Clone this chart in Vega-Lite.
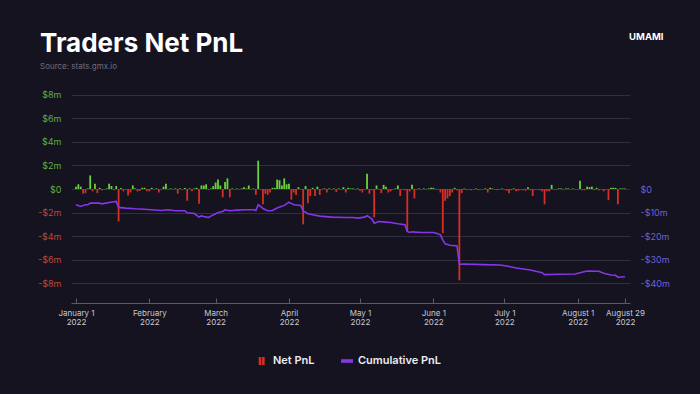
{
"$schema": "https://vega.github.io/schema/vega-lite/v6.json",
"width": 559, "height": 228,
"autosize": {"type": "none"},
"padding": {"left": 71, "top": 75, "right": 70, "bottom": 91},
"background": "#14131f",
"title": {"text": "Traders Net PnL", "subtitle": "Source: stats.gmx.io", "anchor": "start", "frame": "group", "dx": -31, "dy": 48, "offset": 8, "font": "Inter", "fontSize": 26, "fontWeight": 700, "color": "#ffffff", "subtitleFont": "Inter", "subtitleFontSize": 8, "subtitleColor": "#6e6e7e", "subtitlePadding": 6},
"config": {"view": {"stroke": null}, "font": "Inter", "axis": {"labelFont": "Inter", "titleFont": "Inter"}},
"datasets": {
"pnl": [
{"d":"2022-01-01","v":0.2},{"d":"2022-01-02","v":0.4},{"d":"2022-01-03","v":0.2},{"d":"2022-01-04","v":-0.4},{"d":"2022-01-05","v":-0.35},{"d":"2022-01-06","v":0.05},{"d":"2022-01-07","v":1.15},{"d":"2022-01-08","v":-0.2},{"d":"2022-01-09","v":0.45},{"d":"2022-01-10","v":-0.35},
{"d":"2022-01-11","v":0.1},{"d":"2022-01-12","v":-0.1},{"d":"2022-01-13","v":-0.05},{"d":"2022-01-14","v":0.05},{"d":"2022-01-15","v":0.45},{"d":"2022-01-16","v":0.25},{"d":"2022-01-17","v":-0.1},{"d":"2022-01-18","v":0.25},{"d":"2022-01-19","v":-2.75},{"d":"2022-01-20","v":0.08},
{"d":"2022-01-21","v":-0.2},{"d":"2022-01-22","v":-0.05},{"d":"2022-01-23","v":-0.55},{"d":"2022-01-24","v":-0.3},{"d":"2022-01-25","v":0.3},{"d":"2022-01-26","v":0.05},{"d":"2022-01-27","v":-0.2},{"d":"2022-01-28","v":-0.15},{"d":"2022-01-29","v":0.1},{"d":"2022-01-30","v":0.1},
{"d":"2022-01-31","v":-0.2},{"d":"2022-02-01","v":-0.2},{"d":"2022-02-02","v":0.1},{"d":"2022-02-03","v":-0.05},{"d":"2022-02-04","v":0.05},{"d":"2022-02-05","v":-0.3},{"d":"2022-02-06","v":-0.05},{"d":"2022-02-07","v":0.2},{"d":"2022-02-08","v":0.45},{"d":"2022-02-09","v":-0.05},
{"d":"2022-02-10","v":0.05},{"d":"2022-02-11","v":-0.05},{"d":"2022-02-12","v":0.05},{"d":"2022-02-13","v":-0.4},{"d":"2022-02-14","v":0.05},{"d":"2022-02-15","v":-0.05},{"d":"2022-02-16","v":0.08},{"d":"2022-02-17","v":-1.0},{"d":"2022-02-18","v":0.05},{"d":"2022-02-19","v":-0.2},
{"d":"2022-02-20","v":0.05},{"d":"2022-02-21","v":0.1},{"d":"2022-02-22","v":-1.25},{"d":"2022-02-23","v":0.3},{"d":"2022-02-24","v":0.3},{"d":"2022-02-25","v":0.4},{"d":"2022-02-26","v":-0.1},{"d":"2022-02-27","v":0.05},{"d":"2022-02-28","v":0.25},{"d":"2022-03-01","v":0.55},
{"d":"2022-03-02","v":0.8},{"d":"2022-03-03","v":0.3},{"d":"2022-03-04","v":-0.7},{"d":"2022-03-05","v":0.6},{"d":"2022-03-06","v":0.9},{"d":"2022-03-07","v":-0.7},{"d":"2022-03-08","v":0.05},{"d":"2022-03-09","v":-0.05},{"d":"2022-03-10","v":0.05},{"d":"2022-03-11","v":-0.05},
{"d":"2022-03-12","v":0.05},{"d":"2022-03-13","v":0.15},{"d":"2022-03-14","v":0.05},{"d":"2022-03-15","v":0.3},{"d":"2022-03-16","v":-0.05},{"d":"2022-03-17","v":0.05},{"d":"2022-03-18","v":-0.5},{"d":"2022-03-19","v":2.4},{"d":"2022-03-20","v":-0.05},{"d":"2022-03-21","v":-1.3},
{"d":"2022-03-22","v":-0.4},{"d":"2022-03-23","v":-0.5},{"d":"2022-03-24","v":-0.3},{"d":"2022-03-25","v":0.1},{"d":"2022-03-26","v":0.1},{"d":"2022-03-27","v":0.8},{"d":"2022-03-28","v":0.75},{"d":"2022-03-29","v":0.3},{"d":"2022-03-30","v":0.9},{"d":"2022-03-31","v":0.4},
{"d":"2022-04-01","v":0.45},{"d":"2022-04-02","v":-0.9},{"d":"2022-04-03","v":-0.3},{"d":"2022-04-04","v":-0.5},{"d":"2022-04-05","v":0.15},{"d":"2022-04-06","v":-0.05},{"d":"2022-04-07","v":-3.0},{"d":"2022-04-08","v":0.25},{"d":"2022-04-09","v":-1.2},{"d":"2022-04-10","v":-0.6},
{"d":"2022-04-11","v":0.1},{"d":"2022-04-12","v":-0.6},{"d":"2022-04-13","v":0.2},{"d":"2022-04-14","v":-0.5},{"d":"2022-04-15","v":-0.05},{"d":"2022-04-16","v":0.05},{"d":"2022-04-17","v":-0.3},{"d":"2022-04-18","v":0.05},{"d":"2022-04-19","v":-0.05},{"d":"2022-04-20","v":0.05},
{"d":"2022-04-21","v":-0.25},{"d":"2022-04-22","v":0.05},{"d":"2022-04-23","v":-0.05},{"d":"2022-04-24","v":0.15},{"d":"2022-04-25","v":-0.3},{"d":"2022-04-26","v":0.1},{"d":"2022-04-27","v":0.05},{"d":"2022-04-28","v":0.05},{"d":"2022-04-29","v":-0.05},{"d":"2022-04-30","v":0.05},
{"d":"2022-05-01","v":-0.15},{"d":"2022-05-02","v":-0.3},{"d":"2022-05-03","v":-0.05},{"d":"2022-05-04","v":1.3},{"d":"2022-05-05","v":-0.4},{"d":"2022-05-06","v":-0.1},{"d":"2022-05-07","v":-2.4},{"d":"2022-05-08","v":0.3},{"d":"2022-05-09","v":-0.05},{"d":"2022-05-10","v":-0.35},
{"d":"2022-05-11","v":0.35},{"d":"2022-05-12","v":0.2},{"d":"2022-05-13","v":-0.3},{"d":"2022-05-14","v":-0.2},{"d":"2022-05-15","v":-0.05},{"d":"2022-05-16","v":0.05},{"d":"2022-05-17","v":0.3},{"d":"2022-05-18","v":-0.6},{"d":"2022-05-19","v":-0.05},{"d":"2022-05-20","v":-0.1},
{"d":"2022-05-21","v":-3.6},{"d":"2022-05-22","v":-0.2},{"d":"2022-05-23","v":0.35},{"d":"2022-05-24","v":-0.8},{"d":"2022-05-25","v":-0.05},{"d":"2022-05-26","v":0.05},{"d":"2022-05-27","v":-0.05},{"d":"2022-05-28","v":0.05},{"d":"2022-05-29","v":-0.05},{"d":"2022-05-30","v":0.05},
{"d":"2022-05-31","v":0.1},{"d":"2022-06-01","v":0.1},{"d":"2022-06-02","v":-0.05},{"d":"2022-06-03","v":-0.05},{"d":"2022-06-04","v":-0.3},{"d":"2022-06-05","v":-3.75},{"d":"2022-06-06","v":-1.0},{"d":"2022-06-07","v":-0.8},{"d":"2022-06-08","v":-0.6},{"d":"2022-06-09","v":-0.3},
{"d":"2022-06-10","v":0.1},{"d":"2022-06-11","v":-0.1},{"d":"2022-06-12","v":-7.75},{"d":"2022-06-13","v":-0.35},{"d":"2022-06-14","v":0.05},{"d":"2022-06-15","v":-0.1},{"d":"2022-06-16","v":-0.05},{"d":"2022-06-17","v":-0.1},{"d":"2022-06-18","v":-0.05},{"d":"2022-06-19","v":0.05},
{"d":"2022-06-20","v":-0.1},{"d":"2022-06-21","v":-0.05},{"d":"2022-06-22","v":-0.05},{"d":"2022-06-23","v":0.05},{"d":"2022-06-24","v":-0.3},{"d":"2022-06-25","v":0.1},{"d":"2022-06-26","v":0.05},{"d":"2022-06-27","v":-0.05},{"d":"2022-06-28","v":-0.1},{"d":"2022-06-29","v":-0.05},
{"d":"2022-06-30","v":0.05},{"d":"2022-07-01","v":-0.05},{"d":"2022-07-02","v":-0.15},{"d":"2022-07-03","v":-0.35},{"d":"2022-07-04","v":-0.1},{"d":"2022-07-05","v":0.05},{"d":"2022-07-06","v":-0.2},{"d":"2022-07-07","v":-0.15},{"d":"2022-07-08","v":-0.05},{"d":"2022-07-09","v":-0.1},
{"d":"2022-07-10","v":-0.15},{"d":"2022-07-11","v":0.15},{"d":"2022-07-12","v":-0.1},{"d":"2022-07-13","v":-0.6},{"d":"2022-07-14","v":-0.05},{"d":"2022-07-15","v":-0.05},{"d":"2022-07-16","v":-0.1},{"d":"2022-07-17","v":-0.2},{"d":"2022-07-18","v":-1.3},{"d":"2022-07-19","v":-0.2},
{"d":"2022-07-20","v":-0.2},{"d":"2022-07-21","v":0.35},{"d":"2022-07-22","v":-0.05},{"d":"2022-07-23","v":-0.05},{"d":"2022-07-24","v":0.05},{"d":"2022-07-25","v":0.05},{"d":"2022-07-26","v":-0.05},{"d":"2022-07-27","v":0.05},{"d":"2022-07-28","v":0.05},{"d":"2022-07-29","v":-0.05},
{"d":"2022-07-30","v":0.05},{"d":"2022-07-31","v":-0.05},{"d":"2022-08-01","v":-0.05},{"d":"2022-08-02","v":0.7},{"d":"2022-08-03","v":-0.1},{"d":"2022-08-04","v":-0.1},{"d":"2022-08-05","v":0.2},{"d":"2022-08-06","v":0.15},{"d":"2022-08-07","v":0.2},{"d":"2022-08-08","v":-0.1},
{"d":"2022-08-09","v":0.1},{"d":"2022-08-10","v":-0.1},{"d":"2022-08-11","v":-0.05},{"d":"2022-08-12","v":-0.2},{"d":"2022-08-13","v":-0.05},{"d":"2022-08-14","v":-0.95},{"d":"2022-08-15","v":0.1},{"d":"2022-08-16","v":0.1},{"d":"2022-08-17","v":0.1},{"d":"2022-08-18","v":-1.3},
{"d":"2022-08-19","v":0.05},{"d":"2022-08-20","v":0.05},{"d":"2022-08-21","v":0.05}
],
"cum": [
{"d":"2022-01-01","c":-6.7},{"d":"2022-01-03","c":-7.4},{"d":"2022-01-05","c":-6.7},{"d":"2022-01-06","c":-6.7},{"d":"2022-01-07","c":-6.0},{"d":"2022-01-11","c":-6.0},{"d":"2022-01-12","c":-6.3},{"d":"2022-01-15","c":-5.7},{"d":"2022-01-18","c":-5.3},{"d":"2022-01-19","c":-7.8},
{"d":"2022-01-22","c":-8.1},{"d":"2022-01-26","c":-8.4},{"d":"2022-01-28","c":-8.5},{"d":"2022-02-02","c":-8.8},{"d":"2022-02-06","c":-9.1},{"d":"2022-02-09","c":-8.8},{"d":"2022-02-12","c":-9.2},{"d":"2022-02-16","c":-9.2},{"d":"2022-02-17","c":-10.1},{"d":"2022-02-20","c":-10.4},
{"d":"2022-02-22","c":-11.9},{"d":"2022-02-23","c":-11.4},{"d":"2022-02-24","c":-11.65},{"d":"2022-02-26","c":-12.1},{"d":"2022-02-27","c":-11.5},{"d":"2022-03-01","c":-10.5},{"d":"2022-03-02","c":-10.1},{"d":"2022-03-03","c":-9.8},{"d":"2022-03-04","c":-9.5},{"d":"2022-03-05","c":-8.8},
{"d":"2022-03-07","c":-9.2},{"d":"2022-03-10","c":-8.95},{"d":"2022-03-14","c":-8.8},{"d":"2022-03-17","c":-8.8},{"d":"2022-03-18","c":-9.1},{"d":"2022-03-19","c":-6.7},{"d":"2022-03-20","c":-7.4},{"d":"2022-03-21","c":-8.3},{"d":"2022-03-23","c":-9.2},{"d":"2022-03-25","c":-9.1},
{"d":"2022-03-27","c":-8.1},{"d":"2022-03-30","c":-6.96},{"d":"2022-04-01","c":-5.55},{"d":"2022-04-02","c":-6.1},{"d":"2022-04-03","c":-6.7},{"d":"2022-04-06","c":-6.96},{"d":"2022-04-07","c":-9.4},{"d":"2022-04-08","c":-9.8},{"d":"2022-04-09","c":-10.5},{"d":"2022-04-11","c":-10.9},
{"d":"2022-04-14","c":-11.5},{"d":"2022-04-19","c":-11.93},{"d":"2022-04-25","c":-12.07},{"d":"2022-04-28","c":-12.07},{"d":"2022-04-30","c":-12.36},{"d":"2022-05-03","c":-11.93},{"d":"2022-05-04","c":-11.36},{"d":"2022-05-05","c":-11.93},{"d":"2022-05-06","c":-12.64},{"d":"2022-05-07","c":-14.5},
{"d":"2022-05-09","c":-13.77},{"d":"2022-05-12","c":-14.06},{"d":"2022-05-14","c":-14.2},{"d":"2022-05-17","c":-14.77},{"d":"2022-05-20","c":-15.19},{"d":"2022-05-21","c":-18.03},{"d":"2022-05-22","c":-18.46},{"d":"2022-05-23","c":-18.17},{"d":"2022-05-27","c":-18.46},{"d":"2022-06-01","c":-18.46},
{"d":"2022-06-03","c":-19.0},{"d":"2022-06-04","c":-19.45},{"d":"2022-06-05","c":-21.57},{"d":"2022-06-06","c":-23.28},{"d":"2022-06-08","c":-23.84},{"d":"2022-06-11","c":-24.13},{"d":"2022-06-12","c":-31.93},{"d":"2022-06-14","c":-31.79},{"d":"2022-06-22","c":-32.07},{"d":"2022-06-29","c":-32.21},
{"d":"2022-07-02","c":-32.64},{"d":"2022-07-06","c":-33.49},{"d":"2022-07-12","c":-34.34},{"d":"2022-07-17","c":-35.48},{"d":"2022-07-18","c":-36.33},{"d":"2022-07-24","c":-36.18},{"d":"2022-07-31","c":-36.04},{"d":"2022-08-02","c":-35.48},{"d":"2022-08-05","c":-34.77},{"d":"2022-08-10","c":-34.91},
{"d":"2022-08-12","c":-35.76},{"d":"2022-08-15","c":-36.47},{"d":"2022-08-17","c":-36.6},{"d":"2022-08-18","c":-37.4},{"d":"2022-08-21","c":-37.2}
]
},
"layer": [
{
"data": {"name": "pnl"},
"mark": {"type": "bar", "width": 1.8},
"encoding": {
"x": {"field": "d", "type": "temporal",
 "scale": {"type": "utc", "domain": [{"year": 2022, "month": 1, "date": 1, "utc": true}, {"year": 2022, "month": 8, "date": 21, "utc": true}]},
 "axis": {"orient": "bottom", "title": null, "grid": false,
  "values": [{"year": 2022, "month": 1, "date": 1, "utc": true}, {"year": 2022, "month": 2, "date": 1, "utc": true}, {"year": 2022, "month": 3, "date": 1, "utc": true}, {"year": 2022, "month": 4, "date": 1, "utc": true}, {"year": 2022, "month": 5, "date": 1, "utc": true}, {"year": 2022, "month": 6, "date": 1, "utc": true}, {"year": 2022, "month": 7, "date": 1, "utc": true}, {"year": 2022, "month": 8, "date": 1, "utc": true}, {"year": 2022, "month": 8, "date": 21, "utc": true}],
  "labelExpr": "datum.value >= utc(2022, 7, 10) ? ['August 29', '2022'] : [utcFormat(datum.value, (utcmonth(datum.value) >= 1 && utcmonth(datum.value) <= 3) ? '%B' : '%B %-d'), '2022']",
  "labelFlush": false, "labelOverlap": false, "labelFontSize": 8, "labelColor": "#c9c9d3", "labelLineHeight": 9.5,
  "domainColor": "#5a5a6e", "tickColor": "#5a5a6e", "tickSize": -5, "labelPadding": 11}},
"y": {"field": "v", "type": "quantitative",
 "scale": {"domain": [-9.67, 9.67], "nice": false, "zero": false},
 "axis": {"orient": "left", "title": null, "values": [-8, -6, -4, -2, 0, 2, 4, 6, 8],
  "labelExpr": "datum.value == 0 ? '$0' : (datum.value < 0 ? '-$' + abs(datum.value) + 'm' : '$' + datum.value + 'm')",
  "labelColor": {"condition": {"test": "datum.value < 0", "value": "#c2453a"}, "value": "#63ad3e"},
  "labelFontSize": 9, "labelPadding": 10, "domain": false, "ticks": false,
  "grid": true, "gridColor": "#302f3f", "gridWidth": 1}},
"color": {"condition": {"test": "datum.v >= 0", "value": "#6bd33a"}, "datum": "Net PnL",
 "scale": {"domain": ["Net PnL", "Cumulative PnL"], "range": ["#d82e23", "#8636e8"]},
 "legend": {"title": null, "orient": "none", "direction": "horizontal", "legendX": 185, "legendY": 280, "padding": 0,
  "labelFont": "Inter", "labelFontSize": 11, "labelFontWeight": 600, "labelColor": "#ececf2", "symbolSize": 144, "columnPadding": 26, "labelOffset": 5,
  "encode": {"symbols": {"update": {
    "shape": [{"test": "datum.label === 'Net PnL'", "value": "M-0.55,-0.65H-0.12V0.65H-0.55Z M0.02,-0.65H0.45V0.65H0.02Z"}, {"value": "M-1,-0.3H1V0.3H-1Z"}],
    "stroke": {"value": "transparent"}, "strokeWidth": {"value": 0}, "opacity": {"value": 1}}}}}}
}
},
{
"data": {"name": "cum"},
"mark": {"type": "line", "strokeWidth": 1.6},
"encoding": {
"x": {"field": "d", "type": "temporal",
 "axis": {"orient": "top", "domain": false, "ticks": false, "labels": false, "grid": false,
  "title": "UMAMI", "titleFont": "Inter", "titleFontSize": 9.5, "titleFontWeight": 700, "titleColor": "#ffffff",
  "titleAnchor": "end", "titleAlign": "right", "titleX": 592, "titleY": -39, "titleBaseline": "middle"}},
"y": {"field": "c", "type": "quantitative",
 "scale": {"domain": [-48.35, 48.35], "nice": false, "zero": false},
 "axis": {"orient": "right", "title": null, "values": [0, -10, -20, -30, -40],
  "labelExpr": "datum.value == 0 ? '$0' : '-$' + abs(datum.value) + 'm'",
  "labelColor": "#6b61d9", "labelFontSize": 9, "labelPadding": 10, "domain": false, "ticks": false, "grid": false}},
"color": {"datum": "Cumulative PnL"}
}
}
],
"resolve": {"scale": {"y": "independent"}, "axis": {"y": "independent", "x": "independent"}}
}
